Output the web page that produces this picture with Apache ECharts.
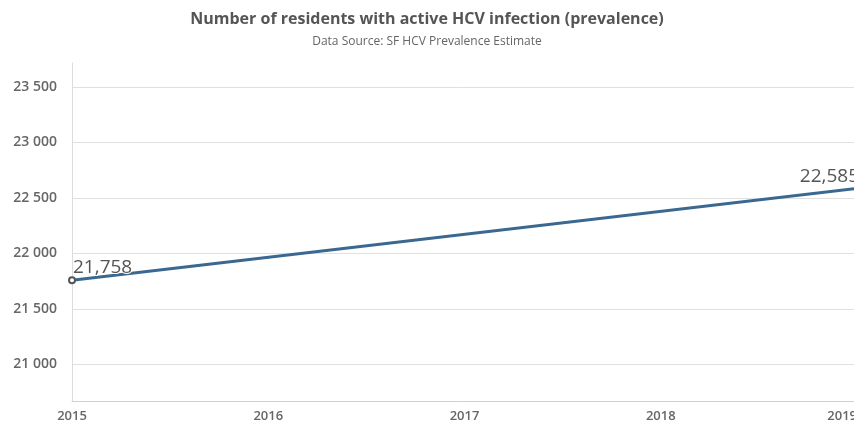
<!DOCTYPE html>
<html><head><meta charset="utf-8">
<script src="https://cdn.jsdelivr.net/npm/echarts@6/dist/echarts.min.js"></script>
<style>html,body{margin:0;padding:0;background:#fff}#c{width:854px;height:426px}</style>
</head><body><div id="c"></div>
<script>
const years = [2015, 2019];
const residents = [21758, 22585];
const xTicks = [2015, 2016, 2017, 2018, 2019];
const yTicks = [21000, 21500, 22000, 22500, 23000, 23500];

const chart = echarts.init(document.getElementById('c'));
const fmtSpace = v => String(v).replace(/\B(?=(\d{3})+(?!\d))/g, ' ');
const fmtComma = v => String(v).replace(/\B(?=(\d{3})+(?!\d))/g, ',');
const data = years.map((y, i) => ({
  value: [y, residents[i]],
  symbol: 'emptyCircle',
  symbolSize: i === 0 ? 6 : 0,
  label: i === 0 ? {align: 'left', offset: [1, 3]} : {align: 'right', offset: [2, 0]}
}));
chart.setOption({
  animation: false,
  title: {
    text: 'Number of residents with active HCV infection (prevalence)',
    subtext: 'Data Source: SF HCV Prevalence Estimate',
    left: 'center', top: 6, itemGap: 9,
    textStyle: {fontFamily: 'Open Sans', fontSize: 16, fontWeight: 'bold', color: '#555'},
    subtextStyle: {fontFamily: 'Open Sans', fontSize: 12, color: '#666'}
  },
  grid: {left: 72, right: -3, top: 63, bottom: 25, outerBoundsMode: 'none', containLabel: false},
  xAxis: {
    type: 'value', min: 2015, max: 2019, interval: 1,
    axisLine: {show: true, lineStyle: {color: '#d0d0d0', width: 1}},
    axisTick: {show: false},
    splitLine: {show: false},
    axisLabel: {fontFamily: 'Open Sans', fontSize: 13, fontWeight: 600, color: '#666', margin: 9,
      alignMaxLabel: 'right', hideOverlap: false,
      formatter: v => xTicks.includes(v) ? String(v) : ''}
  },
  yAxis: {
    type: 'value',
    min: v => residents[0] * 0.95,
    max: v => residents[1] * 1.05,
    axisLine: {show: true, lineStyle: {color: '#dcdcdc'}},
    axisTick: {show: false},
    splitLine: {show: true, showMinLine: false, showMaxLine: false, lineStyle: {color: '#e0e0e0'}},
    axisLabel: {fontFamily: 'Open Sans', fontSize: 14, fontWeight: 600, color: '#666', margin: 15,
      showMinLabel: false, showMaxLabel: false,
      formatter: v => yTicks.includes(v) ? fmtSpace(v) : ''}
  },
  series: [{
    type: 'line',
    data: data,
    showAllSymbol: true,
    z: 3,
    lineStyle: {color: '#3a6890', width: 3},
    itemStyle: {color: '#555', borderColor: '#555', borderWidth: 1.5},
    label: {show: true, position: 'top', distance: 2, fontFamily: 'Open Sans', fontSize: 19, fontWeight: 500,
      color: '#555', textBorderColor: '#fff', textBorderWidth: 2,
      formatter: p => fmtComma(p.value[1])}
  }]
});
</script></body></html>
